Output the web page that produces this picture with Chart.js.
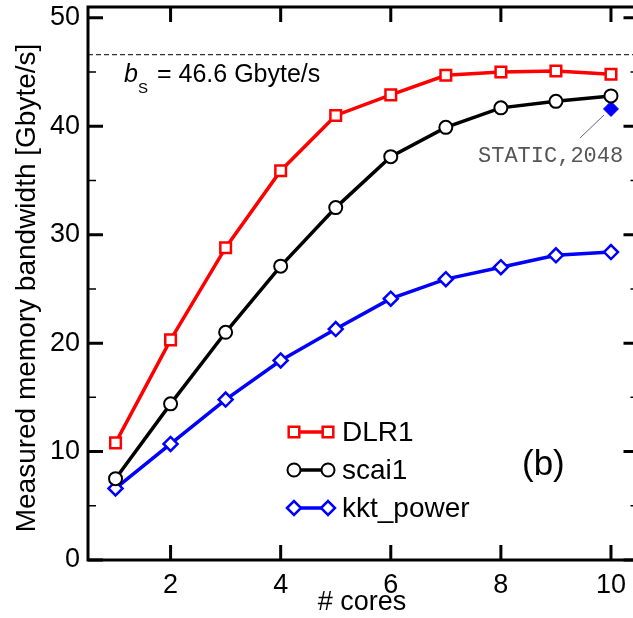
<!DOCTYPE html>
<html>
<head>
<meta charset="utf-8">
<script src="https://cdn.jsdelivr.net/npm/chart.js@4"></script>
<style>
  html, body { margin: 0; padding: 0; background: #fff; overflow: hidden; }
  #wrap { width: 633px; height: 618px; overflow: hidden; }
</style>
</head>
<body>
<div id="wrap"><canvas id="bwChart" width="645" height="618"></canvas></div>
<script>
//data
const cores = [1, 2, 3, 4, 5, 6, 7, 8, 9, 10];
const dlr1 = [10.8, 20.3, 28.8, 35.9, 41.0, 42.9, 44.7, 45.0, 45.1, 44.8];
const scai1 = [7.5, 14.4, 21.0, 27.1, 32.5, 37.2, 39.9, 41.7, 42.3, 42.8];
const kktPower = [6.6, 10.7, 14.8, 18.4, 21.3, 24.1, 25.9, 27.0, 28.1, 28.4];
const staticPoint = [{ x: 10, y: 41.6 }];
const bS = 46.6;
const xTicks = [2, 4, 6, 8, 10];
const yTicks = [0, 10, 20, 30, 40, 50];
const yMinorTicks = [5, 15, 25, 35, 45];

const toPoints = (ys) => ys.map((y, i) => ({ x: cores[i], y: y }));
const FONT = '"Liberation Sans", Arial, sans-serif';

//draws the frame, inward ticks, legend and annotations
const framePlugin = {
    id: 'frame',
    beforeDatasetsDraw(chart) {
        const { ctx, chartArea: a, scales: { y } } = chart;
        const py = y.getPixelForValue(bS);
        ctx.save();
        ctx.strokeStyle = '#000';
        ctx.lineWidth = 1;
        ctx.setLineDash([5, 3]);
        ctx.beginPath();
        ctx.moveTo(a.left, py);
        ctx.lineTo(a.right, py);
        ctx.stroke();
        ctx.restore();
    },
    afterDraw(chart) {
        const { ctx, chartArea: a, scales: { x, y } } = chart;
        ctx.save();
        ctx.strokeStyle = '#000';
        ctx.lineWidth = 3;
        ctx.strokeRect(a.left, a.top, a.right - a.left, a.bottom - a.top);

        //ticks
        ctx.lineWidth = 3;
        ctx.beginPath();
        xTicks.forEach(v => {
            const px = x.getPixelForValue(v);
            ctx.moveTo(px, a.bottom); ctx.lineTo(px, a.bottom - 15);
            ctx.moveTo(px, a.top); ctx.lineTo(px, a.top + 15);
        });
        yTicks.forEach(v => {
            const py = y.getPixelForValue(v);
            ctx.moveTo(a.left, py); ctx.lineTo(a.left + 15, py);
            ctx.moveTo(a.right, py); ctx.lineTo(a.right - 15, py);
        });
        ctx.stroke();
        ctx.lineWidth = 1.5;
        ctx.beginPath();
        yMinorTicks.forEach(v => {
            const py = y.getPixelForValue(v);
            ctx.moveTo(a.left, py); ctx.lineTo(a.left + 8, py);
            ctx.moveTo(a.right, py); ctx.lineTo(a.right - 8, py);
        });
        ctx.stroke();

        //axis titles
        ctx.fillStyle = '#000';
        ctx.font = '27px ' + FONT;
        ctx.textAlign = 'center';
        ctx.textBaseline = 'alphabetic';
        ctx.fillText('# cores', 362, 610);
        ctx.save();
        ctx.translate(35, 288);
        ctx.rotate(-Math.PI / 2);
        ctx.font = '28px ' + FONT;
        ctx.fillText('Measured memory bandwidth [Gbyte/s]', 0, 0);
        ctx.restore();

        //b_S label
        ctx.textAlign = 'left';
        ctx.font = 'italic 25px ' + FONT;
        ctx.fillText('b', 124, 82);
        ctx.font = '15px ' + FONT;
        ctx.fillText('S', 138, 93);
        ctx.font = '25px ' + FONT;
        ctx.fillText('= 46.6 Gbyte/s', 157, 82);

        //STATIC annotation
        ctx.fillStyle = '#555';
        ctx.font = '22px "Liberation Mono", "DejaVu Sans Mono", monospace';
        ctx.fillText('STATIC,2048', 478, 162);
        ctx.strokeStyle = '#666';
        ctx.lineWidth = 1;
        ctx.beginPath();
        ctx.moveTo(604, 115);
        ctx.lineTo(580, 138);
        ctx.stroke();

        //panel label
        ctx.fillStyle = '#000';
        ctx.font = '35px ' + FONT;
        ctx.fillText('(b)', 522, 475);

        //legend
        const rows = [0, 1, 2].map(i => chart.data.datasets[i]);
        ctx.font = '28px ' + FONT;
        rows.forEach((ds, i) => {
            const cy = 432 + i * 38;
            const x0 = 294, x1 = 328;
            ctx.strokeStyle = ds.borderColor;
            ctx.lineWidth = 3.5;
            ctx.beginPath();
            ctx.moveTo(x0, cy); ctx.lineTo(x1, cy);
            ctx.stroke();
            const opts = {
                pointStyle: ds.pointStyle,
                radius: ds.pointRadius,
                rotation: 0,
                borderWidth: ds.pointBorderWidth
            };
            ctx.fillStyle = ds.pointBackgroundColor;
            ctx.strokeStyle = ds.borderColor;
            ctx.lineWidth = ds.pointBorderWidth;
            Chart.helpers.drawPoint(ctx, opts, x0, cy);
            Chart.helpers.drawPoint(ctx, opts, x1, cy);
            ctx.fillStyle = '#000';
            ctx.textBaseline = 'middle';
            ctx.fillText(ds.label, 342, cy + 1);
        });
        ctx.restore();
    }
};

const ctx = document.getElementById('bwChart').getContext('2d');
const bwChart = new Chart(ctx, {
    type: 'line',
    data: {
        datasets: [{
            label: 'DLR1',
            data: toPoints(dlr1),
            borderColor: '#ff0000',
            borderWidth: 3.5,
            pointStyle: 'rect',
            pointRadius: 7.5,
            pointBorderWidth: 2.5,
            pointBackgroundColor: '#fff'
        }, {
            label: 'scai1',
            data: toPoints(scai1),
            borderColor: '#000000',
            borderWidth: 3.5,
            pointStyle: 'circle',
            pointRadius: 6.5,
            pointBorderWidth: 2,
            pointBackgroundColor: '#fff'
        }, {
            label: 'kkt_power',
            data: toPoints(kktPower),
            borderColor: '#0000ff',
            borderWidth: 3.5,
            pointStyle: 'rectRot',
            pointRadius: 7,
            pointBorderWidth: 2.5,
            pointBackgroundColor: '#fff'
        }, {
            label: 'STATIC,2048',
            data: staticPoint,
            showLine: false,
            borderColor: '#0000ff',
            pointStyle: 'rectRot',
            pointRadius: 7.5,
            pointBorderWidth: 1,
            pointBackgroundColor: '#0000ff'
        }]
    },
    options: {
        responsive: false,
        animation: false,
        layout: { autoPadding: false, padding: { left: 0, right: 6.5, top: 7, bottom: 0 } },
        plugins: {
            legend: { display: false },
            tooltip: { enabled: false }
        },
        scales: {
            x: {
                type: 'linear',
                min: 0.5,
                max: 10.5,
                grid: { display: false, drawTicks: false },
                border: { display: false },
                afterBuildTicks: s => { s.ticks = xTicks.map(v => ({ value: v })); },
                afterFit: s => { s.height = 58; s.paddingLeft = 0; s.paddingRight = 0; },
                ticks: {
                    color: '#000',
                    padding: 9,
                    maxRotation: 0,
                    font: { family: FONT, size: 27 }
                }
            },
            y: {
                min: 0,
                max: 51,
                grid: { display: false, drawTicks: false },
                border: { display: false },
                afterBuildTicks: s => { s.ticks = yTicks.map(v => ({ value: v })); },
                afterFit: s => { s.width = 88; s.paddingTop = 0; s.paddingBottom = 0; },
                ticks: {
                    color: '#000',
                    padding: 8,
                    font: { family: FONT, size: 27 }
                }
            }
        }
    },
    plugins: [framePlugin]
});
</script>
</body>
</html>
